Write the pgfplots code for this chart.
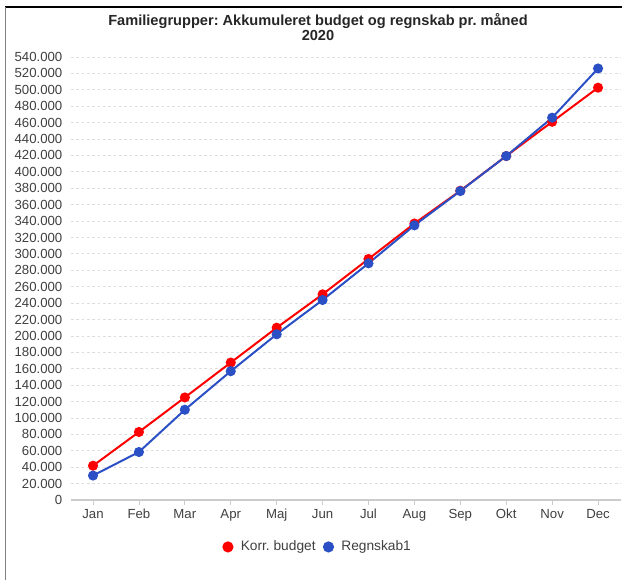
\documentclass[border=0pt]{standalone}
\usepackage{fontspec}
\setmainfont{Liberation Sans}
\usepackage{pgfplots}
\pgfplotsset{compat=1.18}
\definecolor{redc}{HTML}{FF0000}
\definecolor{bluec}{HTML}{2B4FC4}
\definecolor{txt}{HTML}{404040}
\definecolor{gridc}{HTML}{DDDDDD}
\definecolor{axc}{HTML}{CCCCCC}
\frenchspacing
\begin{document}
\frenchspacing
\begin{tikzpicture}
\useasboundingbox (-53.25pt,-60pt) rectangle (413.25pt,375pt);
\draw[black, line width=0.9pt] (-49.5pt,369.75pt) -- (413.25pt,369.75pt);
\draw[gray, line width=0.6pt] (-49.5pt,369.75pt) -- (-49.5pt,-60pt);
\node[align=center, font=\fontsize{10.95}{11.6}\selectfont\bfseries, text=black!85] at (185.25pt,354.5pt) {Familiegrupper: Akkumuleret budget og regnskab pr. måned\\2020};
\begin{axis}[
  at={(0pt,0pt)}, anchor=south west,
  scale only axis, width=412.5pt, height=332.25pt,
  xmin=-0.48, xmax=11.5,
  ymin=0, ymax=540000,
  xtick={0,...,11},
  xticklabels={Jan,Feb,Mar,Apr,Maj,Jun,Jul,Aug,Sep,Okt,Nov,Dec},
  ytick={0,20000,...,540000},
  scaled y ticks=false,
  /pgf/number format/.cd, fixed, 1000 sep={.}, assume math mode=true, /pgfplots/.cd,
  ticklabel style={font=\fontsize{9.9}{11}\selectfont, text=txt},
  axis x line*=bottom, axis y line*=left,
  y axis line style={draw=none},
  x axis line style={draw=axc, line width=0.8pt},
  ytick style={draw=none},
  xtick style={draw=axc, line width=0.6pt},
  tick align=outside, major tick length=3.5pt,
  ymajorgrids,
  major grid style={gridc, dash pattern=on 2pt off 2pt, line width=0.6pt},
  xticklabel style={yshift=0pt},
  yticklabel style={xshift=0.5pt},
  legend columns=2,
  legend style={draw=none, at={(0.449,-0.106)}, anchor=center, font=\fontsize{10.3}{11}\selectfont, text=txt,
    /tikz/every odd column/.append style={column sep=3.5pt},
    /tikz/every even column/.append style={column sep=3.5pt}},
  legend image code/.code={\fill[#1] (0.12cm,0cm) circle (3.4pt);},
]
\addplot[redc, line width=1.5pt, mark=*, mark size=3pt, mark options={fill=redc, draw=redc}] coordinates {
(0,41800) (1,82900) (2,125000) (3,167500) (4,210000) (5,250700) (6,293800) (7,337000) (8,377000) (9,419300) (10,461000) (11,502600)};
\addlegendentry{Korr. budget}
\addplot[bluec, line width=1.5pt, mark=*, mark size=3pt, mark options={fill=bluec, draw=bluec}] coordinates {
(0,29800) (1,58500) (2,110000) (3,157000) (4,202000) (5,243800) (6,288500) (7,334800) (8,376600) (9,419300) (10,466000) (11,526000)};
\addlegendentry{Regnskab1}
\end{axis}
\end{tikzpicture}
\end{document}
